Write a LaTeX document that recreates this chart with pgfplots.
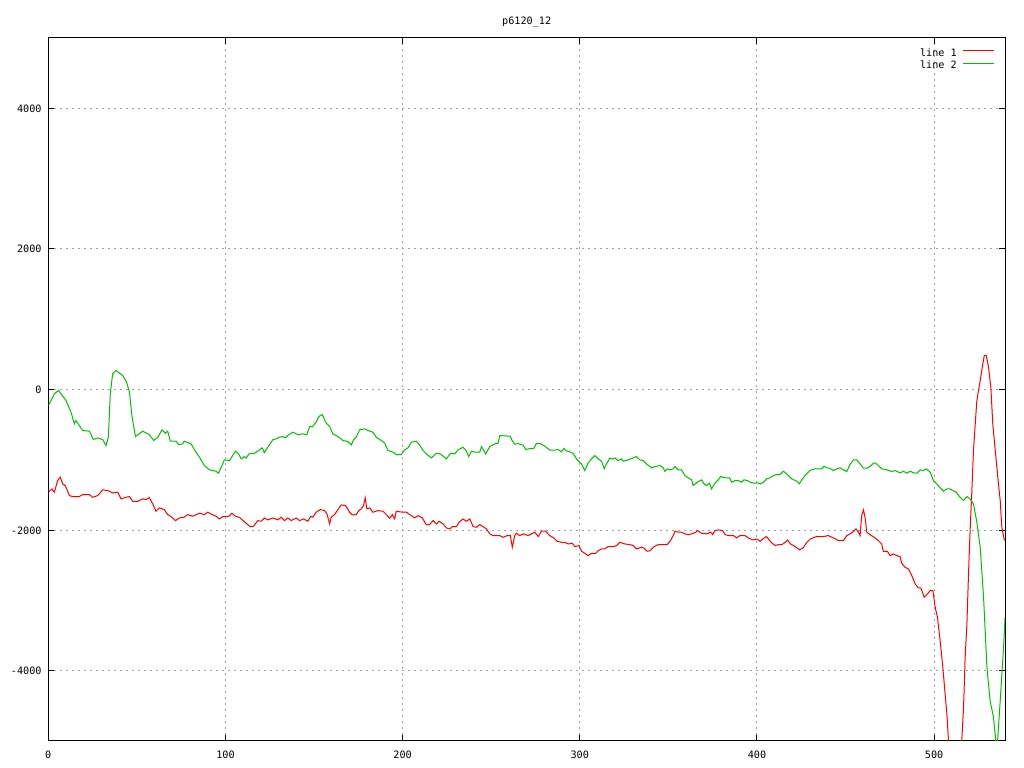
\documentclass[border=0pt]{standalone}
\usepackage{fontspec}
\setmainfont{DejaVu Sans Mono}
\usepackage{pgfplots}
\pgfplotsset{compat=1.18}
\definecolor{gpred}{RGB}{255,0,0}
\definecolor{gpgreen}{RGB}{0,192,0}
\definecolor{gpgrid}{RGB}{160,160,160}

\begin{document}
\fontsize{10.2}{12}\selectfont
\begin{tikzpicture}
\path[use as bounding box] (0bp,0bp) rectangle (1024bp,768bp);
\begin{axis}[
    at={(48.3bp,27bp)}, anchor=south west,
    scale only axis,
    width=956.7bp, height=703bp,
    xmin=0, xmax=540,
    ymin=-5000, ymax=5000,
    xtick={0,100,200,300,400,500},
    xticklabels={0,100,200,300,400,500},
    ytick={-4000,-2000,0,2000,4000},
    yticklabels={-4000,-2000,0,2000,4000},
    xticklabel style={anchor=base, inner sep=0pt, yshift=-18bp},
    yticklabel style={anchor=base east, inner sep=0pt, xshift=-6.6bp, yshift=-4bp},
    major tick length=6bp,
    tick style={black, line width=1bp},
    axis line style={black, line width=1bp},
    grid=major,
    grid style={gpgrid, line width=1bp, dash pattern=on 2bp off 4bp},
    title={p6120\_12},
    title style={at={(0.5,1)}, anchor=base, inner sep=0pt, yshift=8bp},
    legend plot pos=right,
    legend cell align=right,
    legend style={at={(1,1)}, anchor=north east, xshift=-10bp, yshift=-10bp,
        draw=none, fill=none, inner sep=0pt, column sep=5bp, row sep=0pt,
        nodes={inner sep=1bp, text height=7.5bp, text depth=2.8bp}},
    every axis plot/.append style={line width=1bp},
]

\addplot[color=gpred,
    legend image code/.code={\path[draw=gpred, line width=1bp] (0bp,3.5bp) -- (31bp,3.5bp);}]
    coordinates {
(0,-1440) (0.6,-1447) (2.1,-1414) (3.4,-1461) (5.3,-1295) (6.8,-1248) (8.1,-1343)
(9.6,-1367) (11.9,-1509) (13.7,-1523) (17.5,-1523) (19.4,-1495) (23.2,-1495)
(25,-1533) (27.9,-1509) (30.7,-1428) (33.5,-1437) (36.3,-1471) (39.2,-1461)
(41.1,-1556) (43.9,-1533) (45.8,-1523) (47.6,-1590) (50.5,-1590) (53.3,-1556)
(55.2,-1566) (57,-1537) (58.9,-1627) (60.8,-1732) (62.7,-1684) (65.5,-1708)
(67.4,-1779) (69.3,-1808) (71.8,-1865) (74,-1827) (76.7,-1817) (78.6,-1779)
(81.4,-1803) (85.3,-1760) (88.1,-1779) (90,-1746) (92.5,-1779) (94.7,-1803)
(96.6,-1841) (98.5,-1808) (101.9,-1803) (103.6,-1760) (105.7,-1803) (107.9,-1820)
(111.7,-1903) (114,-1950) (115.8,-1945) (118.3,-1865) (120.2,-1874) (122,-1827)
(123.9,-1855) (126.7,-1827) (129.6,-1855) (131.4,-1817) (133.3,-1865) (135.2,-1827)
(137.1,-1865) (139.9,-1827) (141.8,-1865) (144.1,-1841) (146.5,-1874) (148,-1808)
(149.3,-1817) (151.2,-1746) (153.5,-1708) (155.9,-1722) (157.3,-1770) (158.8,-1912)
(159.7,-1817) (161.6,-1779) (163.5,-1708) (165.3,-1642) (167.8,-1651) (170.1,-1746)
(171.6,-1784) (173.8,-1779) (175.3,-1722) (176.6,-1698) (177.9,-1651) (178.9,-1542)
(179.8,-1698) (181.4,-1684) (183.2,-1746) (186.1,-1722) (188.9,-1732) (190.8,-1779)
(192.7,-1832) (194.2,-1779) (195.5,-1841) (196.4,-1732) (200.2,-1746) (202.1,-1746)
(204.9,-1794) (206.8,-1827) (208.7,-1794) (211.1,-1827) (213.4,-1926) (215.3,-1920)
(217.1,-1865) (219.1,-1912) (220.5,-1874) (222.8,-1912) (224.7,-1969) (226.6,-1983)
(228.1,-1950) (230.4,-1950) (231.9,-1888) (234.1,-1841) (236,-1874) (237.9,-1841)
(239.8,-1950) (241.7,-1960) (243.5,-1922) (245.4,-1950) (247.3,-1983) (249.2,-2054)
(251.1,-2078) (254.8,-2078) (256.7,-2102) (259,-2078) (260.8,-2078) (261.9,-2244)
(263.3,-2078) (264.2,-2045) (266.1,-2078) (268.4,-2054) (270.8,-2078) (272.7,-2054)
(274.6,-2030) (276.5,-2092) (278.4,-2016) (280.8,-2016) (283,-2078) (285.3,-2111)
(287.1,-2159) (289.6,-2173) (291.5,-2173) (293.4,-2197) (295.8,-2187) (297.2,-2235)
(299.6,-2220) (301,-2301) (302.8,-2330) (304.7,-2363) (306.6,-2330) (309,-2330)
(310.4,-2292) (312.3,-2268) (314.1,-2268) (316,-2235) (318.9,-2235) (320.8,-2220)
(322.6,-2173) (325.4,-2197) (328.2,-2206) (330.1,-2220) (332,-2268) (334.8,-2244)
(336.1,-2254) (338,-2301) (339.9,-2292) (341.4,-2244) (344.3,-2206) (347.1,-2206)
(349.3,-2206) (351.2,-2149) (352.7,-2078) (353.7,-2017) (355.6,-2030) (357.4,-2030)
(359.3,-2054) (361.2,-2064) (363.1,-2054) (365.5,-2030) (366.3,-2007) (368.7,-2045)
(371.6,-2054) (373.8,-2030) (375,-2064) (376.3,-2007) (378.2,-1997) (380.6,-2007)
(382,-2064) (383.8,-2078) (386.7,-2078) (388.5,-2111) (390.4,-2078) (393.2,-2078)
(395.1,-2111) (397.6,-2140) (399.9,-2126) (401.8,-2159) (403.3,-2126) (405.2,-2092)
(406.5,-2126) (408.5,-2187) (410.4,-2220) (412.2,-2206) (414.1,-2206) (416,-2173)
(417.3,-2140) (418.9,-2197) (420.7,-2220) (422.6,-2254) (424.1,-2282) (426,-2254)
(428.2,-2173) (430.1,-2126) (433.7,-2092) (437.5,-2092) (440.3,-2078) (443.1,-2111)
(446,-2149) (448.8,-2149) (450.7,-2078) (452.5,-2054) (454.4,-2021) (455.9,-1983)
(457.3,-2030) (458.2,-2078) (459.1,-1794) (460.1,-1713) (461,-1817) (462,-2030)
(463.8,-2064) (466.1,-2102) (468.5,-2149) (470.4,-2197) (471.3,-2301) (473.6,-2301)
(475.1,-2363) (477,-2339) (478.9,-2363) (480.8,-2377) (481.7,-2472) (483.6,-2529)
(485.5,-2553) (487.4,-2648) (489.3,-2766) (491.1,-2823) (492.5,-2823) (494.4,-2956)
(495.9,-2918) (497.8,-2861) (499.3,-2861) (500.6,-3099) (501.9,-3241) (503.4,-3573)
(504.9,-3953) (506.2,-4332) (507.2,-4617) (508.1,-4997) (510,-5500) (512,-5700)
(514,-5500) (515.6,-4997) (516.6,-4522) (517.5,-3811) (518.5,-3336) (519.4,-2624)
(520.3,-2007) (521.3,-1438) (522.2,-868) (523.2,-489) (524.1,-157) (526,128)
(527.5,366) (528.3,484) (529.4,484) (530.7,318) (532,33) (533.1,-489) (534.5,-868)
(536.3,-1342) (537.3,-1580) (538.2,-1960) (539.5,-2126) (540,-2149)
};
\addlegendentry{line 1}

\addplot[color=gpgreen,
    legend image code/.code={\path[draw=gpgreen, line width=1bp] (0bp,3.5bp) -- (31bp,3.5bp);}]
    coordinates {
(0,-210) (0.6,-204) (3.4,-62) (5.8,-14) (10,-157) (12.8,-322) (14.7,-487)
(15.6,-441) (19.4,-584) (23.2,-593) (25.4,-712) (27.9,-688) (30.7,-712) (32.6,-797)
(33.9,-678) (35,-62) (36.3,223) (38.2,270) (42,199) (44.2,104) (45.8,-38)
(47.3,-394) (49.2,-669) (53.3,-593) (57,-641) (59.5,-726) (61.8,-678) (64.2,-574)
(66.1,-622) (67.4,-593) (68.9,-735) (72.1,-735) (73.6,-783) (75.9,-773) (76.7,-735)
(80.6,-773) (82.5,-859) (85.3,-963) (88.1,-1082) (91,-1143) (94.7,-1163) (96,-1191)
(97.6,-1106) (99.4,-1001) (102.3,-1010) (105.6,-878) (107.5,-916) (108.9,-987)
(110.7,-954) (111.7,-977) (113.2,-916) (116.4,-907) (119.2,-859) (120.7,-830)
(122,-897) (123.9,-821) (126.7,-716) (128.6,-702) (130.5,-678) (132.4,-669)
(133.9,-688) (135.2,-654) (138,-607) (140.8,-641) (143.6,-631) (145.9,-645)
(147.5,-527) (149,-531) (151.2,-465) (152.7,-384) (154.6,-356) (156.9,-479)
(158.8,-527) (160.6,-631) (163.5,-669) (166.3,-726) (169.1,-740) (171,-788)
(172.3,-716) (173.8,-678) (175.7,-574) (178.5,-560) (181.4,-593) (183.2,-607)
(185.1,-678) (188,-726) (189.9,-764) (191.7,-868) (194.6,-892) (196.4,-925)
(199.2,-925) (201.1,-859) (203,-830) (204.9,-750) (207.7,-735) (209.6,-790)
(211.5,-868) (213.4,-916) (216.2,-973) (219.1,-907) (221.3,-916) (224.7,-987)
(227,-907) (229.4,-916) (231.3,-859) (234.1,-821) (236,-878) (237.3,-954)
(238.8,-878) (240.7,-892) (243.5,-892) (244.5,-812) (246.9,-916) (249.2,-812)
(252,-773) (253.9,-764) (254.8,-655) (257.6,-660) (260.8,-664) (261.9,-731)
(263.3,-778) (265.1,-769) (268,-793) (269.5,-854) (271.8,-840) (274,-840)
(275.5,-769) (277.8,-769) (280.8,-816) (283,-863) (285.9,-863) (287.8,-854)
(289.6,-887) (291,-840) (292.5,-873) (294.4,-887) (296.2,-911) (298.5,-1001)
(301,-1058) (302.8,-1153) (304.7,-1049) (306.6,-987) (308.5,-940) (310.4,-987)
(312.3,-1020) (313.8,-1129) (315.1,-1058) (317,-975) (318.5,-990) (319.8,-973)
(321.7,-1011) (323.5,-987) (324.5,-1020) (327.3,-1001) (330.1,-973) (332,-954)
(333.9,-1001) (335.8,-1011) (337.6,-1058) (340.5,-1115) (342.4,-1096) (345.2,-1082)
(347.1,-1115) (348,-1163) (349.3,-1129) (350.8,-1143) (352.7,-1129) (353.7,-1096)
(355.6,-1143) (357.4,-1143) (359.3,-1224) (361.2,-1257) (363.1,-1285) (364,-1367)
(366.3,-1319) (368.7,-1285) (370.1,-1342) (371.6,-1367) (373.1,-1333) (374.4,-1413)
(376.3,-1333) (378.2,-1285) (379.5,-1238) (382,-1257) (384.5,-1257) (385.8,-1319)
(387.6,-1295) (389.5,-1295) (391.4,-1319) (392.7,-1285) (394.6,-1295) (396.1,-1319)
(398.4,-1333) (400.3,-1328) (402.1,-1342) (403.6,-1319) (405.5,-1271) (407.3,-1257)
(409.2,-1224) (411.1,-1210) (413,-1210) (414.9,-1163) (416.8,-1200) (419.6,-1271)
(422.4,-1304) (423.9,-1342) (425.3,-1285) (427.1,-1224) (428.5,-1191) (429.9,-1150)
(432.8,-1129) (436.5,-1129) (437.9,-1091) (439.4,-1115) (441.2,-1120) (443.1,-1153)
(445,-1129) (446.9,-1115) (448.8,-1143) (450.7,-1167) (452.5,-1068) (454.4,-1001)
(456.3,-1001) (458.2,-1058) (460.1,-1120) (462,-1120) (463.8,-1096) (465.7,-1049)
(467.2,-1049) (468.5,-1082) (470.4,-1129) (473.3,-1143) (476.1,-1167) (478,-1153)
(480.8,-1186) (482.7,-1163) (484.6,-1191) (486.5,-1163) (488.4,-1186) (490.3,-1191)
(492.2,-1143) (494,-1153) (495.5,-1129) (497.8,-1177) (499.6,-1295) (501.5,-1342)
(503.4,-1399) (505.3,-1446) (507.2,-1413) (508.7,-1413) (510.6,-1437) (512.4,-1461)
(514.3,-1523) (516.6,-1580) (518.5,-1523) (520.3,-1556) (522.2,-1627) (524.1,-1888)
(526,-2244) (527.9,-2956) (529.8,-3953) (531.6,-4427) (533.5,-4665) (535.4,-5150)
(537.3,-4427) (539.2,-3669) (540,-3250)
};
\addlegendentry{line 2}

\end{axis}
\end{tikzpicture}
\end{document}
